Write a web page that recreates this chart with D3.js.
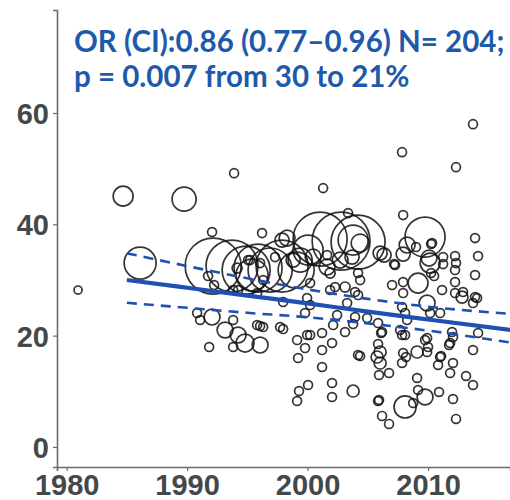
<!DOCTYPE html>
<html><head><meta charset="utf-8">
<script src="https://cdn.jsdelivr.net/npm/d3@7"></script>
<style>body{margin:0;background:#fff}svg{display:block}</style>
</head><body><svg id="c" width="510" height="500"></svg>
<script>
// ---- data ----
const studyYear = [1980.95,1984.69,1989.75,1986.10,1993.90,1992.07,1996.22,1997.88,2001.29,2003.36,2007.84,2012.32,2013.73,2007.93,
1992.16,1993.73,1994.90,1995.89,1996.89,1997.88,1999.05,1995.39,1999.38,1994.15,1995.06,1995.23,1996.06,1997.30,1996.31,1991.74,1992.24,1993.82,1994.23,1995.81,1997.97,
2001.04,2002.78,2004.19,2000.04,2003.78,2004.36,2006.02,1998.30,1998.80,2000.46,2001.62,2002.70,2003.69,2004.19,2004.36,2007.26,2007.01,2001.62,2001.87,2000.21,1999.96,2000.21,2001.87,2002.28,2003.11,2003.94,2004.19,2003.28,2004.94,2002.45,2003.94,1999.79,2002.12,2003.11,2005.85,2006.18,2007.84,2008.09,2008.26,2007.68,2007.84,2009.92,2010.17,2011.00,2011.99,2012.07,2014.15,2009.17,2009.75,2010.17,2007.93,2006.35,2013.90,2014.15,2013.90,2007.18,2012.24,2012.32,2012.24,2012.24,2011.25,2011.25,2010.25,2009.00,2007.93,2010.25,2011.16,2012.90,2013.90,2010.50,2008.26,2010.33,2010.08,2007.93,2012.82,2014.07,2013.73,2012.24,
1990.83,1991.08,1992.07,1993.82,1993.15,1994.23,1994.81,1991.83,1993.82,1995.81,1996.06,1996.31,1996.06,1997.72,1997.97,1999.13,1999.96,2000.21,2001.20,2002.03,2001.20,1999.79,1999.21,2003.78,2001.20,2002.03,2002.03,2003.78,2000.04,1999.29,1999.13,2004.36,2006.10,2005.85,2006.02,2005.77,2006.02,2005.93,2006.76,2005.85,2005.93,2006.18,2006.76,2008.09,2008.17,2007.84,2009.09,2009.92,2010.00,2009.92,2009.09,2009.17,2008.09,2009.75,2008.76,2010.91,2011.08,2010.83,2011.74,2012.07,2011.83,2012.07,2012.32,2013.15,2013.73,2013.73,2007.93,2011.83,2011.00,2004.19,2009.75];
const prevalence = [28.19,45.06,44.52,33.03,49.19,38.60,38.42,37.16,46.50,42.01,52.96,50.27,57.99,41.65,
32.50,32.50,31.78,32.14,31.78,32.50,31.78,30.88,33.57,32.14,33.57,33.57,33.03,34.11,29.98,30.70,29.08,28.19,28.19,27.65,26.03,
37.34,36.98,36.80,35.37,37.16,36.62,34.83,37.52,33.57,34.11,32.32,33.57,34.11,31.24,29.98,32.68,29.08,34.47,31.24,29.44,26.75,25.49,28.19,28.73,28.73,27.83,27.29,25.85,23.16,23.70,23.34,24.06,21.90,20.65,22.26,20.65,25.13,24.06,22.80,21.01,20.11,25.85,24.06,24.06,20.65,19.75,20.47,29.44,37.70,33.03,34.65,34.47,37.52,34.29,30.88,32.85,34.29,33.03,31.78,29.62,34.11,32.85,36.45,35.91,29.62,31.24,28.19,27.83,26.93,30.70,36.27,36.62,33.93,27.65,26.93,26.75,25.85,27.65,
24.06,22.80,23.34,22.80,21.01,20.11,18.67,17.95,17.95,21.90,21.72,21.54,18.31,21.54,21.18,19.21,20.11,20.11,20.47,18.67,17.41,17.77,15.98,22.08,14.36,11.49,8.98,10.05,11.13,10.05,8.26,16.34,20.47,18.49,17.06,16.16,15.08,12.93,13.29,8.26,8.44,5.57,4.13,20.11,16.16,15.08,17.06,19.57,17.95,17.06,12.39,10.23,7.18,8.98,7.90,9.87,16.34,14.72,18.31,15.08,13.29,8.62,5.03,12.75,11.13,17.41,16.88,18.67,16.16,16.52,19.21];
const sampleSize = [180,1100,1600,2850,220,220,220,550,220,220,220,220,220,220,
8700,7500,6400,6400,5400,7500,3600,2850,1600,280,220,220,220,220,220,220,220,220,220,220,220,
8100,9300,8100,2500,2500,900,550,700,550,700,700,700,550,220,220,220,220,220,280,220,220,220,220,220,280,220,220,220,220,220,220,220,220,220,220,220,220,220,220,220,220,700,220,220,220,220,220,1100,4450,1100,550,550,220,220,220,220,220,220,220,220,220,220,220,220,220,220,220,220,220,220,700,220,700,220,400,220,220,220,
220,220,700,220,700,700,900,220,220,220,220,220,700,220,220,220,220,220,220,220,220,220,220,220,220,220,220,400,220,220,220,220,220,220,400,400,400,220,220,220,220,220,220,220,220,220,400,220,220,220,220,220,1350,700,220,220,220,220,220,220,220,220,220,220,220,220,220,220,220,220,220];
const fitYear = [1985,1990,1995,2000,2005,2010,2017];
const fitPct  = [30.0,28.6,27.2,25.8,24.3,22.9,21.0];
const ciUpper = [34.8,32.5,30.3,28.3,26.6,25.2,23.9];
const ciLower = [25.9,25.0,24.1,23.3,22.2,20.9,18.7];
const xTicks = [1980,1990,2000,2010];
const yTicks = [0,20,40,60];
const titleLines = ["OR (CI):0.86 (0.77\u20130.96) N= 204;","p = 0.007 from 30 to 21%"];

// ---- chart ----
const svg = d3.select("#c");
const x = d3.scaleLinear().domain([1979.2,2016.8]).range([57,510]);
const y = d3.scaleLinear().domain([-3.6,78.5]).range([467,10]);
const r = d3.scaleSqrt().domain([0,10000]).range([0,30]);
const axisCol = "#6b6b6b", labCol = "#434949";

svg.append("defs").append("clipPath").attr("id","clp").append("rect")
  .attr("x",57).attr("y",10).attr("width",453).attr("height",457);

const pts = studyYear.map((d,i)=>({yr:d,p:prevalence[i],n:sampleSize[i]}));
const g = svg.append("g").attr("clip-path","url(#clp)");
g.selectAll("circle").data(pts).join("circle")
  .attr("cx",d=>x(d.yr)).attr("cy",d=>y(d.p)).attr("r",d=>r(d.n))
  .attr("fill","none").attr("stroke","#111").attr("stroke-opacity",0.85).attr("stroke-width",1.7);

const line = d3.line().curve(d3.curveMonotoneX);
const fitD = fitYear.map((t,i)=>[x(t),y(fitPct[i])]);
const upD = fitYear.map((t,i)=>[x(t),y(ciUpper[i])]);
const loD = fitYear.map((t,i)=>[x(t),y(ciLower[i])]);
const blue = "#2150B4";
g.append("path").attr("d",line(upD)).attr("fill","none").attr("stroke",blue).attr("stroke-width",2.6).attr("stroke-dasharray","10,7");
g.append("path").attr("d",line(loD)).attr("fill","none").attr("stroke",blue).attr("stroke-width",2.6).attr("stroke-dasharray","10,7");
g.append("path").attr("d",line(fitD)).attr("fill","none").attr("stroke",blue).attr("stroke-width",4.2);

// axes
const xa = svg.append("g").attr("transform","translate(0,467)")
  .call(d3.axisBottom(x).tickValues(xTicks).tickFormat(d3.format("d")).tickSize(4).tickPadding(3));
const ya = svg.append("g").attr("transform","translate(57,0)")
  .call(d3.axisLeft(y).tickValues(yTicks).tickSize(4).tickPadding(4));
[xa,ya].forEach(a=>{
  a.select(".domain").attr("stroke",axisCol).attr("stroke-width",1.6);
  a.selectAll(".tick line").attr("stroke",axisCol).attr("stroke-width",1.2);
  a.selectAll(".tick text").attr("fill",labCol).attr("font-family","Liberation Sans, Arial, sans-serif")
   .attr("font-weight","bold").attr("font-size",29);
});
xa.selectAll(".tick text").attr("dy","0.72em");
ya.selectAll(".tick text").attr("dy","0.36em");

// title
svg.append("g").selectAll("text").data(titleLines).join("text")
  .attr("x",74).attr("y",(d,i)=>52+i*35)
  .attr("fill","#1E5AAA").attr("font-family","Lato, 'Open Sans', sans-serif")
  .attr("font-weight","bold").attr("font-size",29.5).text(d=>d);
</script></body></html>
